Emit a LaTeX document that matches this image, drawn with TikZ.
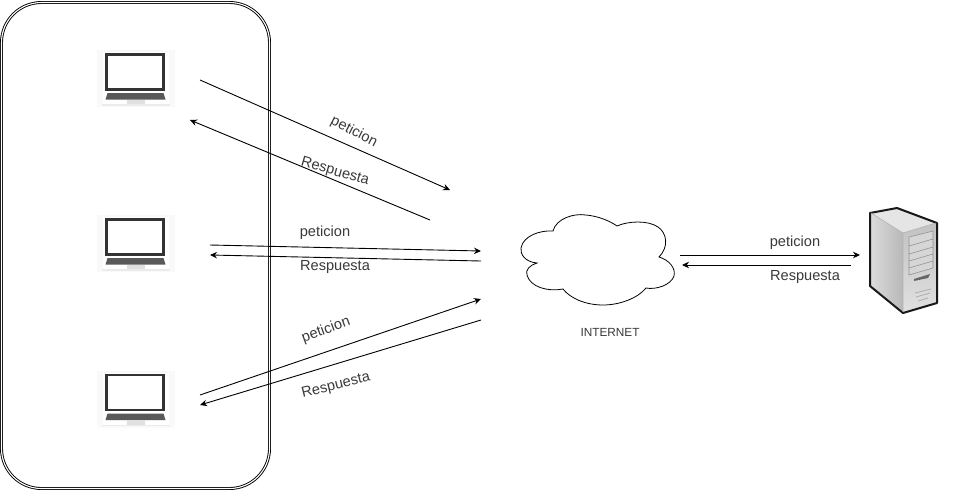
\documentclass[tikz,border=0pt]{standalone}
\usepackage{fontspec}
\setmainfont{Liberation Sans}
\usetikzlibrary{arrows.meta}
\definecolor{txt}{HTML}{3A3A3A}
\tikzset{
  x=1pt,y=-1pt,
  link/.style={draw=black,line width=0.9pt,-{Stealth[length=7pt,width=6.5pt]}},
  lbl/.style={text=txt,font=\fontsize{14.6}{16}\selectfont,inner sep=0pt},
  small/.style={text=txt,font=\fontsize{11.8}{13}\selectfont,inner sep=0pt},
  laptop/.pic={
    \fill[black!2.5] (-39,-29) rectangle (39,28);
    \fill[white] (-33,-27) rectangle (33,25);
    \draw[draw=black!80,line width=2.2pt,fill=white] (-29,-24.5) rectangle (28,10.5);
    \fill[black!65] (-28,14) -- (28,14) -- (30,20.5) -- (-30,20.5) -- cycle;
    \fill[black!12] (-9,20.5) rectangle (9,25);
    \fill[black!8] (-34,25) rectangle (34,26.5);
  }
}
\begin{document}
\begin{tikzpicture}
\useasboundingbox (0,0) rectangle (959,491);
\fill[white] (0,0) rectangle (959,491);
% enclosure
\node[draw=black,double=white,double distance=1.1pt,line width=0.9pt,rounded corners=40pt,minimum width=268pt,minimum height=486pt,inner sep=0pt] (lan) at (135.5,245.5) {};
% laptops
\pic at (135.5,79) {laptop};
\pic at (135.5,244) {laptop};
\pic at (135.5,399.5) {laptop};
% cloud
\draw[line width=0.8pt,fill=white] (553,231)
  .. controls (556,219) and (573,213) .. (586,215)
  .. controls (598,216) and (610,221) .. (617,226)
  .. controls (628,221) and (648,220) .. (658,227)
  .. controls (667,233) and (669,247) .. (659,257)
  .. controls (669,260) and (676,268) .. (674,276)
  .. controls (671,285) and (656,290) .. (646,288)
  .. controls (638,298) and (620,305) .. (603,305)
  .. controls (585,305) and (570,298) .. (563,289)
  .. controls (548,292) and (530,287) .. (527,275)
  .. controls (525,270) and (530,265) .. (537,263)
  .. controls (525,262) and (520,254) .. (521,248)
  .. controls (523,236) and (540,230) .. (553,231) -- cycle;
% server
\shade[left color=black!14,right color=black!28] (871,213) -- (903,233) -- (903,312) -- (871,286) -- cycle;
\fill[black!10] (871,213) -- (897,208) -- (936,223) -- (903,233) -- cycle;
\shade[top color=black!24,bottom color=black!12] (903,233) -- (936,223) -- (936,303) -- (903,312) -- cycle;
\draw[line width=2pt,line join=round,black!90] (870,213) -- (897,208) -- (937,223) -- (937,303) -- (903,313) -- (870,286) -- cycle;
\draw[black!30,line width=0.6pt] (903,233) -- (936,223);
\draw[black!30,line width=0.6pt] (871,213) -- (903,233) -- (903,312);
\fill[black!16] (909,237) -- (933,231) -- (933,268) -- (909,275) -- cycle;
\draw[black!42,line width=0.6pt] (909,237) -- (933,231) -- (933,268) -- (909,275) -- cycle
  (909,246) -- (933,239) (909,254) -- (933,247) (909,261) -- (933,254) (909,268) -- (933,261);
\fill[black!60] (914,279) -- (930,274) -- (928,278) -- (914,281) -- cycle;
\draw[black!32,line width=0.8pt] (915,293) -- (931,289) (916,297) -- (930,293) (918,301) -- (928,298);
% connector ends
\coordinate (a1) at (200,80);   \coordinate (b1) at (450,190);
\coordinate (a2) at (430,220);  \coordinate (b2) at (190,120);
\coordinate (a3) at (210,245);  \coordinate (b3) at (481,251);
\coordinate (a4) at (481,261);  \coordinate (b4) at (210,255);
\coordinate (a5) at (200,395);  \coordinate (b5) at (481,299);
\coordinate (a6) at (481,320);  \coordinate (b6) at (200,405);
\coordinate (a7) at (680,255);  \coordinate (b7) at (860,255);
\coordinate (a8) at (851,265);  \coordinate (b8) at (682,265);
\draw[link] (a1) -- (b1);
\draw[link] (a2) -- (b2);
\draw[link] (a3) -- (b3);
\draw[link] (a4) -- (b4);
\draw[link] (a5) -- (b5);
\draw[link] (a6) -- (b6);
\draw[link] (a7) -- (b7);
\draw[link] (a8) -- (b8);
% labels
\node[lbl,rotate=-27] (l1) at (354,132) {peticion};
\node[lbl,rotate=-16] (l2) at (335,172) {Respuesta};
\node[lbl] (l3) at (325,233) {peticion};
\node[lbl] (l4) at (335,267) {Respuesta};
\node[lbl,rotate=20] (l5) at (326,330) {peticion};
\node[lbl,rotate=14] (l6) at (336,386) {Respuesta};
\node[lbl] (l7) at (795,243) {peticion};
\node[lbl] (l8) at (805,277) {Respuesta};
\node[small] (l9) at (610,332) {INTERNET};
\end{tikzpicture}
\end{document}
